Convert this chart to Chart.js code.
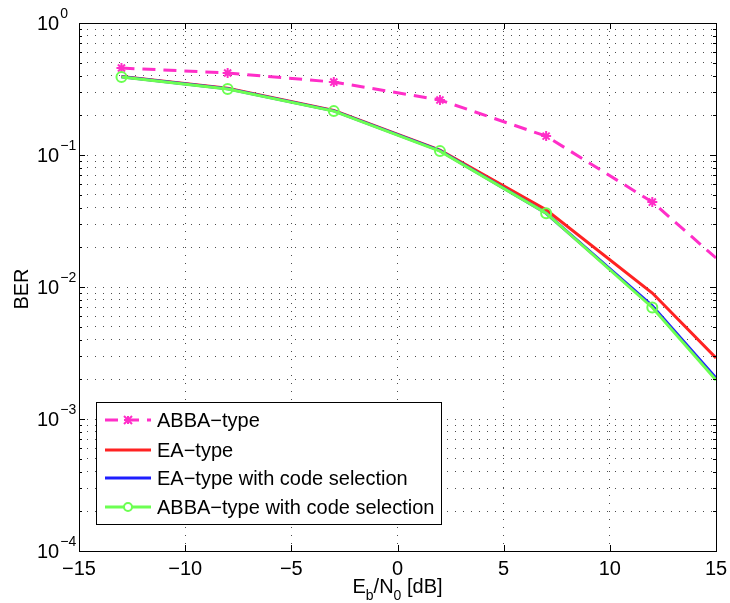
<!DOCTYPE html>
<html>
<head>
<meta charset="utf-8">
<title>BER vs Eb/N0</title>
<script src="https://cdn.jsdelivr.net/npm/chart.js@4.4.1/dist/chart.umd.min.js"></script>
<style>
  html, body { margin: 0; padding: 0; background: #fff; }
  #wrap { width: 730px; height: 603px; }
</style>
</head>
<body>
<div id="wrap"><canvas id="ber"></canvas></div>
<script>
// Eb/N0 points (dB); the last point sits on the right edge of the axes
const ebn0 = [-13, -8, -3, 2, 7, 12, 15];

const berAbba = [0.456, 0.418, 0.357, 0.261, 0.139, 0.044, 0.0166];
const berEa = [0.393, 0.320, 0.218, 0.109, 0.0385, 0.0090, 0.0029];
const berEaSel = [0.391, 0.318, 0.216, 0.108, 0.0362, 0.0072, 0.00204];
const berAbbaSel = [0.390, 0.316, 0.215, 0.107, 0.0362, 0.0070, 0.00197];

const xTicks = [-15, -10, -5, 0, 5, 10, 15];
const yDecades = [-4, -3, -2, -1, 0];

const seriesNames = ['ABBA\u2212type', 'EA\u2212type', 'EA\u2212type with code selection', 'ABBA\u2212type with code selection'];

const FONT = '"Liberation Sans", Arial, Helvetica, sans-serif';
const PINK = '#ff2ec8';
const RED = '#ff2222';
const BLUE = '#1e1eff';
const GREEN = '#6cff52';

function pts(ys) {
    return ebn0.map((x, i) => ({ x: x, y: ys[i] }));
}
// markers on measured points only, none on the edge point
const markR = ebn0.map((x) => (x === 15 ? 0 : 5));
const noMark = ebn0.map(() => 0);

function fmtNum(v) {
    return v < 0 ? '\u2212' + Math.abs(v) : String(v);
}

// MATLAB-like frame: box, inward ticks, tick labels, axis titles and legend
const matlabFrame = {
    id: 'matlabFrame',
    afterDraw(chart) {
        const ctx = chart.ctx;
        const a = chart.chartArea;
        const xs = chart.scales.x;
        const ys = chart.scales.y;
        ctx.save();

        // axes box
        ctx.strokeStyle = '#000';
        ctx.lineWidth = 1;
        ctx.strokeRect(Math.round(a.left) + 0.5, Math.round(a.top) + 0.5,
            Math.round(a.right - a.left), Math.round(a.bottom - a.top));

        // x ticks (bottom and top, pointing inward)
        ctx.beginPath();
        xTicks.forEach((v) => {
            const px = Math.round(xs.getPixelForValue(v)) + 0.5;
            ctx.moveTo(px, a.bottom); ctx.lineTo(px, a.bottom - 6);
            ctx.moveTo(px, a.top); ctx.lineTo(px, a.top + 6);
        });
        // y ticks, majors at decades, minors at 2..9
        yDecades.forEach((d) => {
            for (let m = 1; m <= 9; m++) {
                const v = m * Math.pow(10, d);
                if (v > 1.0000001) break;
                const py = Math.round(ys.getPixelForValue(v)) + 0.5;
                const len = m === 1 ? 6 : 3;
                ctx.moveTo(a.left, py); ctx.lineTo(a.left + len, py);
                ctx.moveTo(a.right, py); ctx.lineTo(a.right - len, py);
            }
        });
        ctx.stroke();

        ctx.fillStyle = '#000';
        // x tick labels
        ctx.font = '20px ' + FONT;
        ctx.textAlign = 'center';
        ctx.textBaseline = 'alphabetic';
        xTicks.forEach((v) => {
            ctx.fillText(fmtNum(v), xs.getPixelForValue(v), a.bottom + 24);
        });

        // y tick labels 10^n
        ctx.textAlign = 'left';
        yDecades.forEach((d) => {
            const py = ys.getPixelForValue(Math.pow(10, d));
            ctx.font = '20px ' + FONT;
            ctx.fillText('10', 37, py + 7);
            const w = ctx.measureText('10').width;
            ctx.font = '14px ' + FONT;
            ctx.fillText(fmtNum(d), 37 + w + 1, py - 5);
        });

        // y axis title
        ctx.save();
        ctx.translate(28, (a.top + a.bottom) / 2 + 2);
        ctx.rotate(-Math.PI / 2);
        ctx.font = '20px ' + FONT;
        ctx.textAlign = 'center';
        ctx.fillText('BER', 0, 0);
        ctx.restore();

        // x axis title with subscripts: E_b/N_0 [dB]
        const parts = [['E', 0], ['b', 1], ['/N', 0], ['0', 1], [' [dB]', 0]];
        const widthOf = (p) => {
            ctx.font = (p[1] ? '14px ' : '20px ') + FONT;
            return ctx.measureText(p[0]).width;
        };
        const total = parts.reduce((s, p) => s + widthOf(p), 0);
        let cx = (a.left + a.right) / 2 - total / 2;
        const base = a.bottom + 42;
        parts.forEach((p) => {
            const w = widthOf(p);
            ctx.fillText(p[0], cx, p[1] ? base + 7 : base);
            cx += w;
        });

        // legend box
        const lx = 96, ly = 402, lw = 345, lh = 122;
        ctx.fillStyle = '#fff';
        ctx.fillRect(lx, ly, lw, lh);
        ctx.strokeStyle = '#000';
        ctx.lineWidth = 1;
        ctx.strokeRect(lx + 0.5, ly + 0.5, lw, lh);
        const rows = [420, 450, 478, 507];
        chart.data.datasets.forEach((ds, i) => {
            const ry = rows[i];
            ctx.save();
            ctx.strokeStyle = ds.borderColor;
            ctx.lineWidth = ds.borderWidth;
            ctx.setLineDash(ds.borderDash || []);
            ctx.beginPath();
            ctx.moveTo(105, ry); ctx.lineTo(151, ry);
            ctx.stroke();
            ctx.setLineDash([]);
            if (ds.legendMarker === 'star') {
                ctx.lineWidth = 2;
                ctx.beginPath();
                const r = 4;
                ctx.moveTo(128 - r, ry - r); ctx.lineTo(128 + r, ry + r);
                ctx.moveTo(128 - r, ry + r); ctx.lineTo(128 + r, ry - r);
                ctx.moveTo(128, ry - r); ctx.lineTo(128, ry + r);
                ctx.moveTo(128 - r, ry); ctx.lineTo(128 + r, ry);
                ctx.stroke();
            } else if (ds.legendMarker === 'circle') {
                ctx.lineWidth = 2;
                ctx.fillStyle = '#fff';
                ctx.beginPath();
                ctx.arc(128, ry, 4, 0, Math.PI * 2);
                ctx.fill();
                ctx.stroke();
            }
            ctx.restore();
            ctx.fillStyle = '#000';
            ctx.font = '20px ' + FONT;
            ctx.textAlign = 'left';
            ctx.textBaseline = 'middle';
            ctx.fillText(ds.label, 157, ry + 1);
        });

        ctx.restore();
    }
};

const gridDots = {
    color: 'rgba(0,0,0,0.7)',
    lineWidth: 1,
    drawTicks: false
};

new Chart(document.getElementById('ber'), {
    type: 'line',
    data: {
        datasets: [{
            label: seriesNames[0],
            data: pts(berAbba),
            borderColor: PINK,
            backgroundColor: PINK,
            borderWidth: 3,
            borderDash: [13, 8],
            pointStyle: 'star',
            pointRadius: markR,
            pointBorderWidth: 2,
            pointBorderColor: PINK,
            legendMarker: 'star',
            order: 3
        }, {
            label: seriesNames[1],
            data: pts(berEa),
            borderColor: RED,
            backgroundColor: RED,
            borderWidth: 3,
            pointRadius: noMark,
            order: 2
        }, {
            label: seriesNames[2],
            data: pts(berEaSel),
            borderColor: BLUE,
            backgroundColor: BLUE,
            borderWidth: 3,
            pointRadius: noMark,
            order: 1
        }, {
            label: seriesNames[3],
            data: pts(berAbbaSel),
            borderColor: GREEN,
            backgroundColor: 'rgba(255,255,255,0)',
            borderWidth: 3,
            pointStyle: 'circle',
            pointRadius: markR,
            pointBorderWidth: 2,
            pointBorderColor: GREEN,
            legendMarker: 'circle',
            order: 0
        }]
    },
    options: {
        responsive: true,
        maintainAspectRatio: false,
        animation: false,
        layout: { padding: { left: 79, right: 14, top: 23, bottom: 52 } },
        plugins: {
            legend: { display: false },
            tooltip: { enabled: false }
        },
        scales: {
            x: {
                type: 'linear',
                min: -15,
                max: 15,
                afterBuildTicks: (scale) => {
                    scale.ticks = xTicks.map((v) => ({ value: v }));
                },
                ticks: { display: false },
                grid: { ...gridDots, tickBorderDash: [1, 7], borderDash: [1, 7] },
                border: { display: false, dash: [1, 7] }
            },
            y: {
                type: 'logarithmic',
                min: 1e-4,
                max: 1,
                afterBuildTicks: (scale) => {
                    const t = [];
                    yDecades.forEach((d) => {
                        for (let m = 1; m <= 9; m++) {
                            const v = m * Math.pow(10, d);
                            if (v > 1.0000001) break;
                            t.push({ value: v });
                        }
                    });
                    scale.ticks = t;
                },
                ticks: { display: false },
                grid: gridDots,
                border: { display: false, dash: [1, 7] }
            }
        }
    },
    plugins: [matlabFrame]
});
</script>
</body>
</html>
